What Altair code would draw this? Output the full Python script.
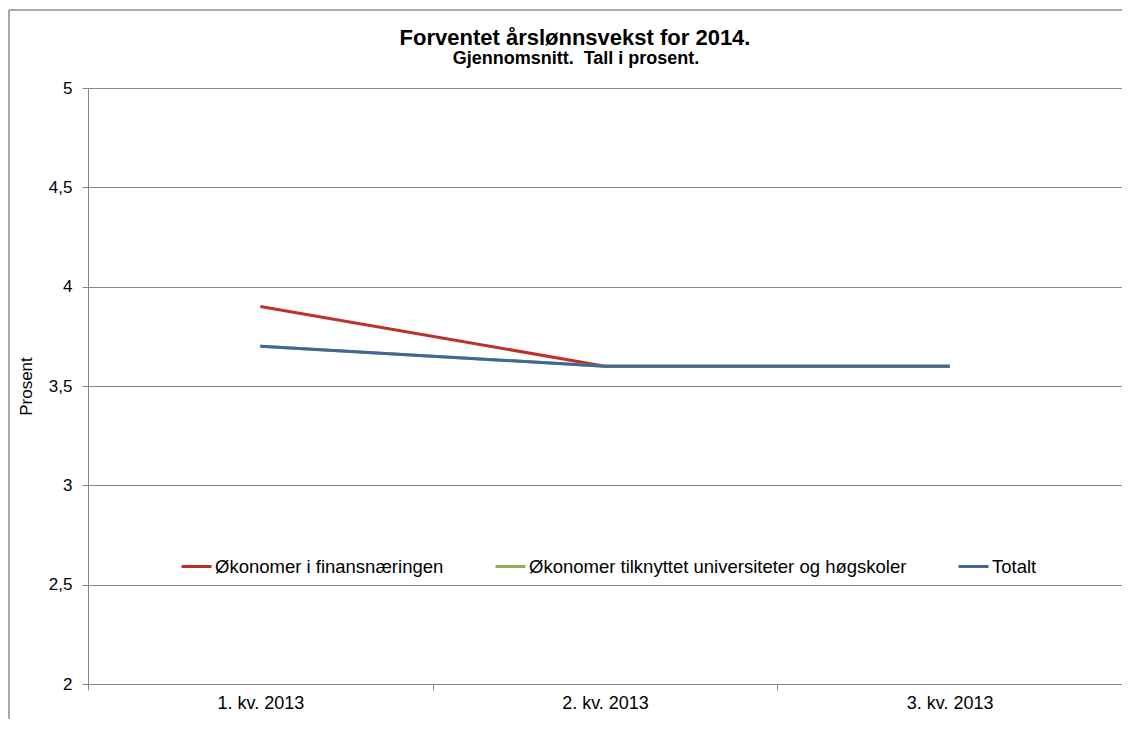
import altair as alt
import pandas as pd

quarters = ["1. kv. 2013", "2. kv. 2013", "3. kv. 2013"]
series_names = [
    "Økonomer i finansnæringen",
    "Økonomer tilknyttet universiteter og høgskoler",
    "Totalt",
]
finans = [3.9, 3.6, 3.6]
universitet = [3.7, 3.6, 3.6]
totalt = [3.7, 3.6, 3.6]
colors = ["#C0302B", "#8DB04A", "#3F6799"]

title_text = "Forventet årslønnsvekst for 2014."
subtitle_text = "Gjennomsnitt.\u00a0 Tall i prosent."

rows = []
for name, vals in zip(series_names, [finans, universitet, totalt]):
    for q, v in zip(quarters, vals):
        rows.append({"kvartal": q, "serie": name, "verdi": v})
df = pd.DataFrame(rows)

FONT = "Liberation Sans"

one = pd.DataFrame({"a": [0]})
frame_left = alt.Chart(one).mark_rule(stroke="#8C8C8C", strokeWidth=1.5).encode(
    x=alt.value(-79), y=alt.value(-78), y2=alt.value(660)
)
frame_top = alt.Chart(one).mark_rule(stroke="#8C8C8C", strokeWidth=1.5).encode(
    x=alt.value(-79), x2=alt.value(1040), y=alt.value(-78)
)

title_mark = alt.Chart(pd.DataFrame({"t": [title_text]})).mark_text(
    font=FONT, fontSize=22, fontWeight="bold", color="#000000",
    align="center", baseline="alphabetic"
).encode(text="t:N", x=alt.value(487), y=alt.value(-43))

subtitle_mark = alt.Chart(pd.DataFrame({"t": [subtitle_text]})).mark_text(
    font=FONT, fontSize=18, fontWeight="bold", color="#000000",
    align="center", baseline="alphabetic"
).encode(text="t:N", x=alt.value(488), y=alt.value(-24))

lines = alt.Chart(df).mark_line(strokeWidth=3).encode(
    x=alt.X(
        "kvartal:N",
        sort=quarters,
        scale=alt.Scale(paddingInner=0, paddingOuter=0),
        axis=alt.Axis(
            title=None,
            labelAngle=0,
            tickBand="extent",
            labelFont=FONT,
            labelFontSize=18,
            labelColor="#000000",
            labelPadding=4,
            domainColor="#868686",
            tickColor="#868686",
            tickSize=6,
            grid=False,
        ),
    ),
    y=alt.Y(
        "verdi:Q",
        scale=alt.Scale(domain=[2, 5], nice=False, zero=False),
        axis=alt.Axis(
            title="Prosent",
            titleFont=FONT,
            titleFontSize=17,
            titleFontWeight="normal",
            titleColor="#000000",
            titlePadding=13,
            values=[2, 2.5, 3, 3.5, 4, 4.5, 5],
            labelExpr="replace(format(datum.value, '.1~f'), '.', ',')",
            labelFont=FONT,
            labelFontSize=17,
            labelColor="#000000",
            labelPadding=10,
            domainColor="#868686",
            tickColor="#868686",
            tickSize=6,
            grid=True,
            gridColor="#868686",
            gridWidth=1,
        ),
    ),
    color=alt.Color(
        "serie:N",
        sort=series_names,
        scale=alt.Scale(domain=series_names, range=colors),
        legend=alt.Legend(
            title=None,
            orient="none",
            legendX=92,
            legendY=462,
            direction="horizontal",
            symbolType="stroke",
            symbolSize=900,
            symbolStrokeWidth=3,
            labelFont=FONT,
            labelFontSize=18.5,
            labelColor="#000000",
            labelOffset=2,
            labelLimit=600,
            columnPadding=45,
        ),
    ),
    order=alt.Order("serie:N"),
    detail="serie:N",
)

chart = alt.layer(frame_left, frame_top, title_mark, subtitle_mark, lines).properties(
    width=1034,
    height=596,
    autosize=alt.AutoSizeParams(type="none"),
    padding={"left": 80, "top": 80, "right": 0, "bottom": 35},
).configure_view(stroke=None)

chart.save("out.html", embed_options={"renderer": "svg", "actions": False})
